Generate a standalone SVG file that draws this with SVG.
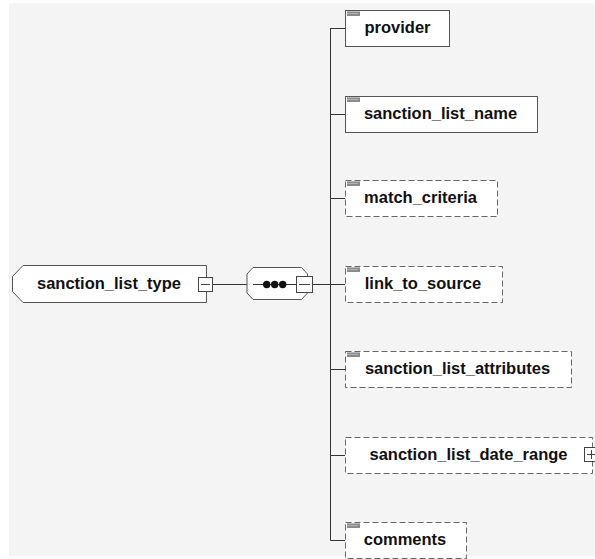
<svg xmlns="http://www.w3.org/2000/svg" width="595" height="559" viewBox="0 0 595 559">
<style>
.bg{fill:#f4f4f4}
.box{fill:#fff;stroke:#555;stroke-width:1}
.opt{fill:#fff;stroke:#666;stroke-width:1;stroke-dasharray:6,3}
.lbl{font-family:"Liberation Sans",Arial,sans-serif;font-weight:bold;font-size:16.5px;fill:#111;text-anchor:middle}
.con{stroke:#333;stroke-width:1;fill:none}
.btn{fill:#fff;stroke:#444;stroke-width:1}
.sym{stroke:#444;stroke-width:1}
</style>
<defs>
<g id="docicon">
<rect x="2" y="1" width="13" height="5" fill="#8a8a8a"/>
<line x1="2" y1="1.5" x2="15" y2="1.5" stroke="#bbb" stroke-width="1"/>
<line x1="2" y1="3.5" x2="13" y2="3.5" stroke="#ccc" stroke-width="0.6"/>
</g>
</defs>
<rect class="bg" x="9" y="3" width="586" height="553"/>
<g id="connectors">
<line class="con" x1="213" y1="284.5" x2="247" y2="284.5"/>
<line class="con" x1="312" y1="284.5" x2="330.5" y2="284.5"/>
<line class="con" x1="330.5" y1="28" x2="330.5" y2="540.5"/>
<line class="con" x1="330.5" y1="28.5" x2="345" y2="28.5"/>
<line class="con" x1="330.5" y1="114.5" x2="345" y2="114.5"/>
<line class="con" x1="330.5" y1="198.5" x2="345" y2="198.5"/>
<line class="con" x1="330.5" y1="284.5" x2="345" y2="284.5"/>
<line class="con" x1="330.5" y1="369.5" x2="345" y2="369.5"/>
<line class="con" x1="330.5" y1="455.5" x2="345" y2="455.5"/>
<line class="con" x1="330.5" y1="540.5" x2="345" y2="540.5"/>
</g>
<g id="sanction_list_type">
<path class="box" d="M23,265.5H206.5V302.5H23L12.5,291.5V276.5Z"/>
<text class="lbl" x="109" y="288.5">sanction_list_type</text>
<rect class="btn" x="198.5" y="277.5" width="14" height="14"/>
<line class="sym" x1="201" y1="284.5" x2="210" y2="284.5"/>
</g>
<g id="sequence">
<path class="box" d="M253,267.5H301.5L307.5,274V293L301.5,299.5H253L247,293V274Z"/>
<line class="con" x1="253" y1="284.5" x2="297" y2="284.5"/>
<circle cx="266.7" cy="284.5" r="3.7" fill="#111"/>
<circle cx="274.7" cy="284.5" r="3.7" fill="#111"/>
<circle cx="282.7" cy="284.5" r="3.7" fill="#111"/>
<rect class="btn" x="296.5" y="276.5" width="16" height="16"/>
<line class="sym" x1="299" y1="284.5" x2="310" y2="284.5"/>
</g>
<g id="provider">
<rect class="box" x="345.5" y="10.5" width="104" height="36"/>
<use href="#docicon" x="345" y="10"/>
<text class="lbl" x="397.5" y="32.5">provider</text>
</g>
<g id="sanction_list_name">
<rect class="box" x="345.5" y="96.5" width="192" height="36"/>
<use href="#docicon" x="345" y="96"/>
<text class="lbl" x="440.5" y="118.5">sanction_list_name</text>
</g>
<g id="match_criteria">
<rect class="opt" x="345.5" y="180.5" width="152" height="36"/>
<use href="#docicon" x="345" y="180"/>
<text class="lbl" x="420.5" y="202.5">match_criteria</text>
</g>
<g id="link_to_source">
<rect class="opt" x="345.5" y="266.5" width="157" height="36"/>
<use href="#docicon" x="345" y="266"/>
<text class="lbl" x="423" y="288.5">link_to_source</text>
</g>
<g id="sanction_list_attributes">
<rect class="opt" x="345.5" y="351.5" width="226" height="36"/>
<use href="#docicon" x="345" y="351"/>
<text class="lbl" x="457.5" y="373.5">sanction_list_attributes</text>
</g>
<g id="sanction_list_date_range">
<rect class="opt" x="345.5" y="437.5" width="247" height="36"/>
<text class="lbl" x="468.5" y="459.5">sanction_list_date_range</text>
<rect class="btn" x="584.5" y="447.5" width="14" height="14"/>
<line class="sym" x1="587" y1="454.5" x2="596" y2="454.5"/>
<line class="sym" x1="591.5" y1="450" x2="591.5" y2="459"/>
</g>
<g id="comments">
<rect class="opt" x="345.5" y="522.5" width="121" height="36"/>
<use href="#docicon" x="345" y="522"/>
<text class="lbl" x="405" y="544.5">comments</text>
</g>
</svg>
